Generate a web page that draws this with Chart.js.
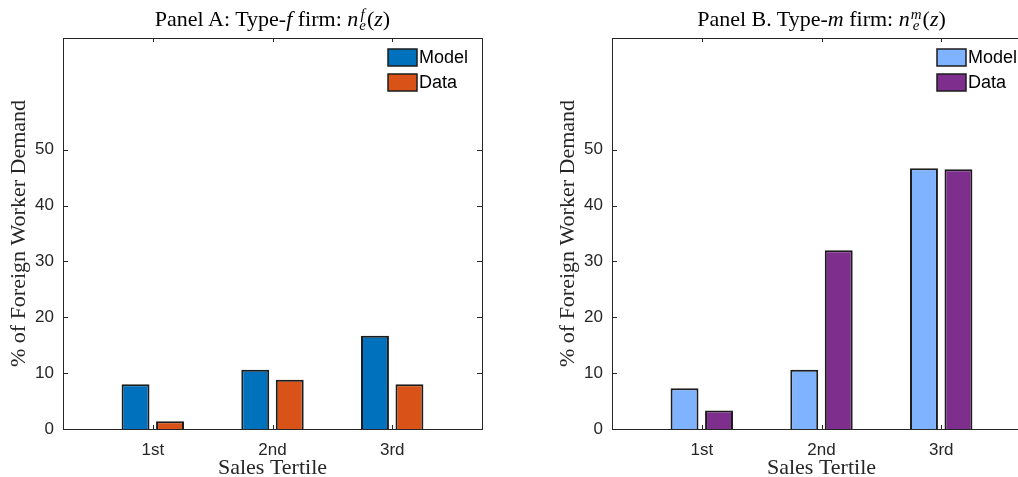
<!DOCTYPE html>
<html>
<head>
<meta charset="utf-8">
<script src="https://cdn.jsdelivr.net/npm/chart.js@4"></script>
<style>
html, body { margin: 0; padding: 0; background: #fff; overflow: hidden; width: 1018px; height: 477px; position: relative; }
.panel { position: absolute; top: 0; width: 500px; height: 477px; }
.title { position: absolute; top: 4px; left: 63px; width: 419px; height: 30px; line-height: 30px; text-align: center; font-family: "Liberation Serif", serif; font-size: 22px; color: #000; white-space: nowrap; }
.ss { display: inline-flex; flex-direction: column; font-size: 15px; line-height: 11px; vertical-align: 7px; margin-left: 1px; margin-right: 1px; }
</style>
</head>
<body>
<div class="panel" style="left:0px">
  <canvas id="chartA" width="500" height="477"></canvas>
  <div class="title">Panel A: Type-<i>f</i> firm: <i>n</i><span class="ss"><i>f</i><i>e</i></span>(<i>z</i>)</div>
</div>
<div class="panel" style="left:549px">
  <canvas id="chartB" width="500" height="477"></canvas>
  <div class="title">Panel B. Type-<i>m</i> firm: <i>n</i><span class="ss"><i>m</i><i>e</i></span>(<i>z</i>)</div>
</div>
<script>
const categories = ['1st', '2nd', '3rd']
const yTicks = [0, 10, 20, 30, 40, 50]
const seriesNames = ['Model', 'Data']

// Panel A: type-f firm
const modelA = [8.0, 10.6, 16.7]
const dataA = [1.4, 8.8, 8.0]
// Panel B: type-m firm
const modelB = [7.3, 10.6, 46.7]
const dataB = [3.3, 32.0, 46.5]

const axisColor = '#262626'
const edgeColor = '#1c1c1c'

function line(ctx, x1, y1, x2, y2) {
    ctx.beginPath()
    ctx.moveTo(x1, y1)
    ctx.lineTo(x2, y2)
    ctx.stroke()
}

// matlab style box, inward ticks and the legend inside the axes
const boxPlugin = {
    id: 'matlabBox',
    afterDatasetsDraw(chart) {
        const ctx = chart.ctx
        const a = chart.chartArea
        const x = chart.scales.x
        const y = chart.scales.y
        ctx.save()
        ctx.strokeStyle = axisColor
        ctx.lineWidth = 1
        ctx.strokeRect(Math.round(a.left) + 0.5, Math.round(a.top) + 0.5, Math.round(a.right - a.left), Math.round(a.bottom - a.top))
        y.ticks.forEach(t => {
            const py = Math.round(y.getPixelForValue(t.value)) + 0.5
            line(ctx, a.left, py, a.left + 5, py)
            line(ctx, a.right - 5, py, a.right, py)
        })
        x.ticks.forEach(t => {
            const px = Math.round(x.getPixelForValue(t.value)) + 0.5
            line(ctx, px, a.bottom, px, a.bottom - 4)
            line(ctx, px, a.top, px, a.top + 4)
        })
        // legend
        ctx.font = '18px "Liberation Sans", Arial, sans-serif'
        ctx.textBaseline = 'middle'
        ctx.textAlign = 'left'
        chart.data.datasets.forEach((ds, i) => {
            const bx = a.left + 325
            const by = a.top + 11 + i * 25
            ctx.fillStyle = ds.backgroundColor
            ctx.fillRect(bx, by, 29, 17)
            ctx.strokeStyle = edgeColor
            ctx.lineWidth = 1.5
            ctx.strokeRect(bx, by, 29, 17)
            ctx.fillStyle = '#000'
            ctx.fillText(ds.label, bx + 31, by + 9)
        })
        ctx.restore()
    }
}

function makeChart(id, model, data, colors) {
    const ctx = document.getElementById(id).getContext('2d')
    return new Chart(ctx, {
        type: 'bar',
        data: {
            datasets: [{
                label: seriesNames[0],
                data: model.map((v, i) => ({ x: i + 1, y: v })),
                backgroundColor: colors[0],
                borderColor: edgeColor,
                borderWidth: 2,
                barPercentage: 0.81,
                categoryPercentage: 0.576
            },
            {
                label: seriesNames[1],
                data: data.map((v, i) => ({ x: i + 1, y: v })),
                backgroundColor: colors[1],
                borderColor: edgeColor,
                borderWidth: 2,
                barPercentage: 0.81,
                categoryPercentage: 0.576
            }]
        },
        options: {
            responsive: false,
            animation: false,
            layout: { padding: { top: 38, right: 18, left: 0, bottom: 0 } },
            plugins: {
                legend: { display: false },
                title: { display: false },
                tooltip: { enabled: false }
            },
            scales: {
                x: {
                    type: 'linear',
                    min: 0.25,
                    max: 3.75,
                    offset: false,
                    grid: { display: false, drawTicks: false },
                    border: { display: false },
                    afterBuildTicks: s => { s.ticks = categories.map((c, i) => ({ value: i + 1 })) },
                    ticks: {
                        callback: v => categories[v - 1],
                        font: { family: '"Liberation Sans", Arial, sans-serif', size: 17 },
                        color: axisColor,
                        padding: 11,
                        maxRotation: 0,
                        autoSkip: false
                    },
                    title: {
                        display: true,
                        text: 'Sales Tertile',
                        font: { family: '"Liberation Serif", serif', size: 22, lineHeight: 0.8 },
                        color: axisColor,
                        padding: { top: 0, bottom: 0 }
                    },
                    afterFit: s => { s.height = 48 }
                },
                y: {
                    min: 0,
                    max: 70,
                    grid: { display: false, drawTicks: false },
                    border: { display: false },
                    afterBuildTicks: s => { s.ticks = yTicks.map(v => ({ value: v })) },
                    ticks: {
                        font: { family: '"Liberation Sans", Arial, sans-serif', size: 17 },
                        color: axisColor,
                        padding: 9
                    },
                    title: {
                        display: true,
                        text: '% of Foreign Worker Demand',
                        font: { family: '"Liberation Serif", serif', size: 22, lineHeight: 1 },
                        color: axisColor,
                        padding: { top: 8, bottom: 0 }
                    },
                    afterFit: s => { s.width = 63 }
                }
            }
        },
        plugins: [boxPlugin]
    })
}

makeChart('chartA', modelA, dataA, ['#0072BD', '#D95319'])
makeChart('chartB', modelB, dataB, ['#80B3FF', '#7E2F8E'])
</script>
</body>
</html>
